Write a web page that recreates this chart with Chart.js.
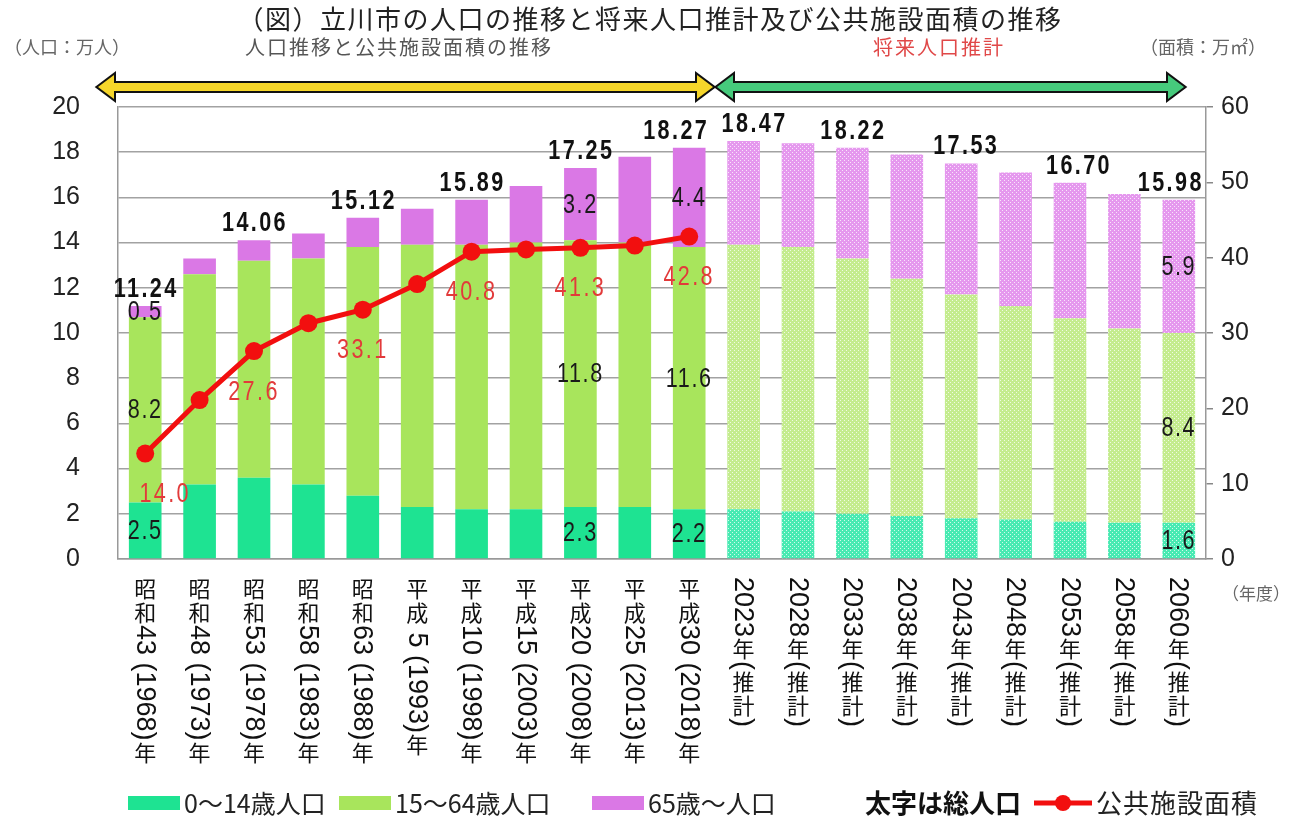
<!DOCTYPE html>
<html lang="ja">
<head>
<meta charset="utf-8">
<title>立川市の人口の推移と将来人口推計及び公共施設面積の推移</title>
<script src="https://cdn.jsdelivr.net/npm/chart.js@4.4.1/dist/chart.umd.min.js"></script>
<style>
  html, body { margin: 0; padding: 0; background: #fff; }
  #wrap { width: 1297px; height: 822px; }
</style>
</head>
<body>
<div id="wrap"><canvas id="popChart" width="1297" height="822"></canvas></div>
<script>
// data
const years = [
    '昭和43 (1968)年', '昭和48 (1973)年', '昭和53 (1978)年', '昭和58 (1983)年', '昭和63 (1988)年',
    '平成 5 (1993)年', '平成10 (1998)年', '平成15 (2003)年', '平成20 (2008)年', '平成25 (2013)年',
    '平成30 (2018)年', '2023年(推計)', '2028年(推計)', '2033年(推計)', '2038年(推計)',
    '2043年(推計)', '2048年(推計)', '2053年(推計)', '2058年(推計)', '2060年(推計)'
];
const firstProjection = 11;

const age0to14 = [2.5, 3.3, 3.6, 3.3, 2.8, 2.3, 2.2, 2.2, 2.3, 2.3, 2.2, 2.2, 2.1, 2.0, 1.9, 1.8, 1.75, 1.65, 1.6, 1.6];
const age15to64 = [8.2, 9.3, 9.6, 10.0, 11.0, 11.6, 11.7, 11.8, 11.8, 11.7, 11.6, 11.7, 11.7, 11.3, 10.5, 9.9, 9.45, 9.0, 8.6, 8.4];
const age65plus = [0.5, 0.7, 0.9, 1.1, 1.3, 1.6, 2.0, 2.5, 3.2, 3.8, 4.4, 4.6, 4.6, 4.9, 5.5, 5.8, 5.9, 6.0, 5.95, 5.9];

// public facility floor area (万㎡), right axis
const facilityArea = [14.0, 21.1, 27.6, 31.3, 33.1, 36.5, 40.8, 41.1, 41.3, 41.6, 42.8,
    null, null, null, null, null, null, null, null, null];

// bold total population labels
const totalLabels = ['11.24', null, '14.06', null, '15.12', null, '15.89', null, '17.25', null, '18.27',
    '18.47', null, '18.22', null, '17.53', null, '16.70', null, '15.98'];
const areaLabels = ['14.0', null, '27.6', null, '33.1', null, '40.8', null, '41.3', null, '42.8',
    null, null, null, null, null, null, null, null, null];
const segmentLabelBars = [0, 8, 10, 19];

const leftTicks = { min: 0, max: 20, step: 2 };
const rightTicks = { min: 0, max: 60, step: 10 };

const SANS = '"Liberation Sans", Arial, sans-serif';
const JP = '"Noto Sans CJK JP", sans-serif';

const colors = {
    young: '#1ee392',
    working: '#a8e55c',
    old: '#da78e5',
    line: '#f20f0f',
    lineText: '#e23a3a'
};

// hand nudges for crowded total labels (px), as in the original layout
const totalShift = { 10: -14, 11: 10, 15: 4, 17: 8, 19: -9 };

function dotted(base) {
    const c = document.createElement('canvas');
    c.width = 4;
    c.height = 4;
    const g = c.getContext('2d');
    g.fillStyle = base;
    g.fillRect(0, 0, 4, 4);
    g.fillStyle = 'rgba(255,255,255,0.75)';
    g.fillRect(0, 0, 1, 1);
    g.fillRect(2, 2, 1, 1);
    return g.createPattern(c, 'repeat');
}

function barFill(solid, light) {
    const pat = dotted(light);
    return years.map((y, i) => i < firstProjection ? solid : pat);
}

const cjk = /[\u3000-\u9fff\uff00-\uffef]/;

// vertical (tategaki) label: kanji upright, latin runs turned sideways
function drawVertical(ctx, text, x, y) {
    const runs = text.match(/[\u3000-\u9fff\uff00-\uffef]|[^\u3000-\u9fff\uff00-\uffef]+/g);
    runs.forEach(r => {
        if (cjk.test(r)) {
            ctx.font = '22px ' + JP;
            ctx.textAlign = 'center';
            ctx.textBaseline = 'middle';
            ctx.fillText(r, x, y + 12);
            y += 24;
        } else {
            ctx.font = '27px ' + SANS;
            const w = ctx.measureText(r).width;
            ctx.save();
            ctx.translate(x - 1, y);
            ctx.rotate(Math.PI / 2);
            ctx.textAlign = 'left';
            ctx.textBaseline = 'middle';
            ctx.fillText(r, 0, 0);
            ctx.restore();
            y += w;
        }
    });
}

function drawArrow(ctx, x1, x2, y, fill) {
    const h = 4, H = 12, L = 16;
    ctx.beginPath();
    ctx.moveTo(x1, y);
    ctx.lineTo(x1 + L, y - H);
    ctx.lineTo(x1 + L, y - h);
    ctx.lineTo(x2 - L, y - h);
    ctx.lineTo(x2 - L, y - H);
    ctx.lineTo(x2, y);
    ctx.lineTo(x2 - L, y + H);
    ctx.lineTo(x2 - L, y + h);
    ctx.lineTo(x1 + L, y + h);
    ctx.lineTo(x1 + L, y + H);
    ctx.closePath();
    ctx.lineWidth = 4;
    ctx.lineJoin = 'miter';
    ctx.strokeStyle = '#111';
    ctx.stroke();
    ctx.fillStyle = fill;
    ctx.fill();
}

function text(ctx, str, x, y, font, color, align, spacing) {
    ctx.font = font;
    ctx.fillStyle = color;
    ctx.textAlign = align || 'left';
    ctx.textBaseline = 'middle';
    ctx.letterSpacing = (spacing || 0) + 'px';
    ctx.fillText(str, x, y);
    ctx.letterSpacing = '0px';
}

// tall condensed numbers like the original figure
function narrow(ctx, str, x, y, font, color, baseline, spacing) {
    ctx.save();
    ctx.translate(x, y);
    ctx.scale(0.8, 1);
    ctx.font = font;
    ctx.fillStyle = color;
    ctx.textAlign = 'center';
    ctx.textBaseline = baseline;
    ctx.letterSpacing = spacing + 'px';
    ctx.fillText(str, 0, 0);
    ctx.restore();
}

const annotate = {
    id: 'annotate',
    afterDatasetsDraw(chart) {
        const ctx = chart.ctx;
        const m0 = chart.getDatasetMeta(0);
        const m1 = chart.getDatasetMeta(1);
        const m2 = chart.getDatasetMeta(2);
        const m3 = chart.getDatasetMeta(3);

        // values inside the stacked bars
        segmentLabelBars.forEach(i => {
            [m0, m1, m2].forEach((m, d) => {
                const bar = m.data[i];
                const v = chart.data.datasets[d].data[i];
                narrow(ctx, v.toFixed(1), bar.x, (bar.y + bar.base) / 2 + 1, '27px ' + SANS, '#1a1a1a', 'middle', 2);
            });
        });

        // total population (bold)
        totalLabels.forEach((t, i) => {
            if (!t) return;
            const bar = m2.data[i];
            narrow(ctx, t, bar.x + 1 + (totalShift[i] || 0), bar.y - 3, 'bold 27px ' + SANS, '#111', 'bottom', 3);
        });

        // facility area values
        areaLabels.forEach((t, i) => {
            if (!t) return;
            const pt = m3.data[i];
            narrow(ctx, t, pt.x + (i === 0 ? 20 : 0), pt.y + 41, '27px ' + SANS, colors.lineText, 'middle', 3);
        });
    },
    afterDraw(chart) {
        const ctx = chart.ctx;
        const xs = chart.scales.x;
        ctx.save();

        text(ctx, '（図）立川市の人口の推移と将来人口推計及び公共施設面積の推移', 650, 19, '26px ' + JP, '#222', 'center', 1.5);
        text(ctx, '（人口：万人）', 4, 47, '18px ' + JP, '#666', 'left');
        text(ctx, '人口推移と公共施設面積の推移', 245, 47, '20px ' + JP, '#555', 'left', 2);
        text(ctx, '将来人口推計', 873, 47, '20px ' + JP, '#e04848', 'left', 2);
        text(ctx, '（面積：万㎡）', 1140, 47, '18px ' + JP, '#666', 'left');
        text(ctx, '（年度）', 1222, 594, '17px ' + JP, '#666', 'left');

        drawArrow(ctx, 98, 713, 87, '#f6d62a');
        drawArrow(ctx, 717, 1184, 87, '#46ca7c');

        ctx.fillStyle = '#111';
        years.forEach((y, i) => drawVertical(ctx, y, xs.getPixelForValue(i), 577));

        // legend
        const ly = 803;
        const boxes = [
            [128, colors.young, '0～14歳人口'],
            [339, colors.working, '15～64歳人口'],
            [592, colors.old, '65歳～人口']
        ];
        boxes.forEach(([bx, c, label]) => {
            ctx.fillStyle = c;
            ctx.fillRect(bx, ly - 7, 52, 14);
            text(ctx, label, bx + 56, ly, '25px ' + JP, '#222', 'left');
        });
        text(ctx, '太字は総人口', 865, ly, 'bold 26px ' + JP, '#111', 'left');
        ctx.strokeStyle = colors.line;
        ctx.lineWidth = 5;
        ctx.beginPath();
        ctx.moveTo(1034, ly);
        ctx.lineTo(1092, ly);
        ctx.stroke();
        ctx.fillStyle = colors.line;
        ctx.beginPath();
        ctx.arc(1063, ly, 8, 0, Math.PI * 2);
        ctx.fill();
        text(ctx, '公共施設面積', 1096, ly, '26px ' + JP, '#222', 'left', 1);

        ctx.restore();
    }
};

const popChart = new Chart('popChart', {
    type: 'bar',
    data: {
        labels: years,
        datasets: [
            {
                label: '0～14歳人口',
                data: age0to14,
                backgroundColor: barFill(colors.young, '#48eab2'),
                stack: 'pop',
                order: 1
            },
            {
                label: '15～64歳人口',
                data: age15to64,
                backgroundColor: barFill(colors.working, '#c4ec8e'),
                stack: 'pop',
                order: 1
            },
            {
                label: '65歳～人口',
                data: age65plus,
                backgroundColor: barFill(colors.old, '#e598ee'),
                stack: 'pop',
                order: 1
            },
            {
                type: 'line',
                label: '公共施設面積',
                data: facilityArea,
                yAxisID: 'y1',
                borderColor: colors.line,
                backgroundColor: colors.line,
                borderWidth: 5,
                pointRadius: 9,
                pointBorderWidth: 0,
                pointBackgroundColor: colors.line,
                spanGaps: false,
                order: 0
            }
        ]
    },
    options: {
        responsive: false,
        animation: false,
        devicePixelRatio: 1,
        layout: {
            padding: { top: 107, left: 0, right: 0, bottom: 0 }
        },
        datasets: {
            bar: {
                categoryPercentage: 1,
                barPercentage: 0.6
            }
        },
        plugins: {
            legend: { display: false },
            tooltip: { enabled: false },
            title: { display: false }
        },
        scales: {
            x: {
                stacked: true,
                ticks: { display: false },
                grid: { display: false, drawTicks: false },
                border: { display: true, color: '#999', width: 1.5 },
                afterFit: s => { s.height = 263; }
            },
            y: {
                stacked: true,
                position: 'left',
                min: leftTicks.min,
                max: leftTicks.max,
                ticks: {
                    stepSize: leftTicks.step,
                    padding: 38,
                    color: '#222',
                    font: { family: SANS, size: 25 }
                },
                grid: {
                    color: '#a2a2a2',
                    lineWidth: 1.5,
                    drawTicks: false
                },
                border: { display: true, color: '#999', width: 1.5 },
                afterFit: s => { s.width = 118; }
            },
            y1: {
                position: 'right',
                min: rightTicks.min,
                max: rightTicks.max,
                ticks: {
                    stepSize: rightTicks.step,
                    padding: 8,
                    color: '#222',
                    font: { family: SANS, size: 25 }
                },
                grid: {
                    drawOnChartArea: false,
                    drawTicks: true,
                    tickLength: 7,
                    color: '#888',
                    lineWidth: 1.5
                },
                border: { display: true, color: '#999', width: 1.5 },
                afterFit: s => { s.width = 91; }
            }
        }
    },
    plugins: [annotate]
});
</script>
</body>
</html>
